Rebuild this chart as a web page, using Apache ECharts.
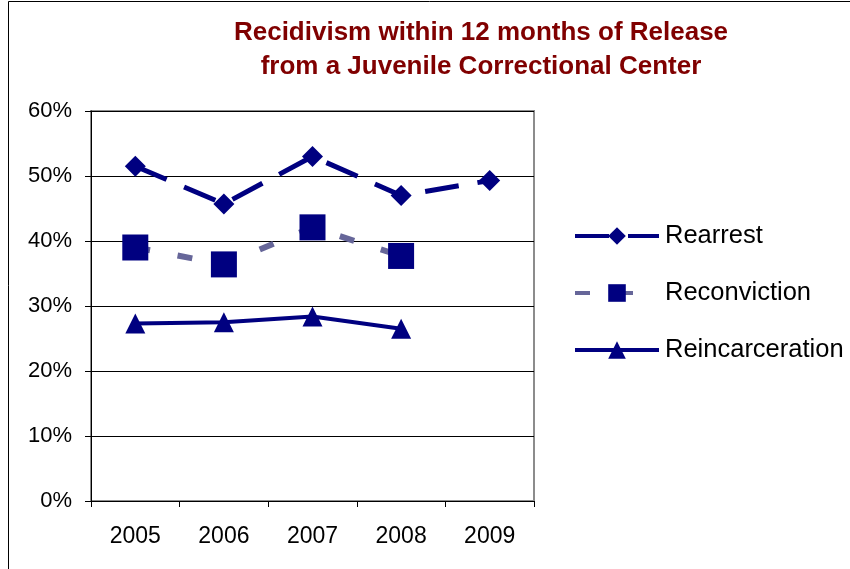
<!DOCTYPE html>
<html>
<head>
<meta charset="utf-8">
<script src="https://cdn.jsdelivr.net/npm/echarts@6/dist/echarts.min.js"></script>
<style>
  html, body { margin: 0; padding: 0; background: #fff; }
  #chart { width: 850px; height: 569px; }
</style>
</head>
<body>
<div id="chart"></div>
<script>
// Recidivism rates (percent) by release year
const years = ['2005', '2006', '2007', '2008', '2009'];
const rearrest = [51.5, 45.7, 53.0, 47.0, 49.3];
const reconviction = [39.0, 36.4, 42.1, 37.7, null];
const reincarceration = [27.3, 27.5, 28.4, 26.5, null];
const yTicks = { min: 0, max: 60, step: 10 };

const NAVY = '#000080';
const SLATE = '#666699';
const FONT = '"Liberation Sans", Arial, sans-serif';

const chart = echarts.init(document.getElementById('chart'));
chart.setOption({
  animation: false,
  backgroundColor: '#fff',
  title: {
    text: 'Recidivism within 12 months of Release\nfrom a Juvenile Correctional Center',
    left: 476,
    textAlign: 'center',
    top: 11,
    textStyle: {
      fontFamily: FONT,
      fontWeight: 'bold',
      fontSize: 26,
      lineHeight: 34,
      color: '#800000'
    }
  },
  graphic: [
    {
      type: 'rect',
      shape: { x: 8.5, y: 1.5, width: 900, height: 600 },
      style: { fill: 'none', stroke: '#000', lineWidth: 1 },
      silent: true
    }
  ],
  legend: {
    orient: 'vertical',
    left: 568,
    top: 218,
    itemWidth: 84,
    itemHeight: 22,
    itemGap: 31,
    lineStyle: { width: 4 },
    textStyle: { fontFamily: FONT, fontSize: 25.5, lineHeight: 26, color: '#000', padding: [0, 0, 0, 1] },
    data: ['Rearrest', 'Reconviction', 'Reincarceration']
  },
  grid: {
    left: 91, right: 316, top: 111, bottom: 68,
    show: true, borderColor: '#8c8c8c', borderWidth: 2,
    containLabel: false
  },
  xAxis: {
    type: 'category',
    data: years,
    boundaryGap: true,
    axisLine: { lineStyle: { color: '#000', width: 1 } },
    axisTick: { show: true, length: 6, lineStyle: { color: '#000' } },
    axisLabel: { fontFamily: FONT, fontSize: 23, color: '#000', margin: 24 },
    splitLine: { show: false }
  },
  yAxis: {
    type: 'value',
    min: yTicks.min, max: yTicks.max, interval: yTicks.step,
    axisLine: { show: true, lineStyle: { color: '#000', width: 1 } },
    axisTick: { show: true, length: 6, lineStyle: { color: '#000' } },
    axisLabel: { fontFamily: FONT, fontSize: 22, color: '#000', margin: 19, formatter: '{value}%' },
    splitLine: { show: true, lineStyle: { color: '#000', width: 1 } }
  },
  series: [
    {
      name: 'Rearrest',
      type: 'line',
      data: rearrest,
      symbol: 'diamond',
      symbolSize: 21,
      itemStyle: { color: NAVY },
      lineStyle: { color: NAVY, width: 5, type: [34, 19] },
      z: 3
    },
    {
      name: 'Reconviction',
      type: 'line',
      data: reconviction,
      symbol: 'rect',
      symbolSize: 26,
      itemStyle: { color: NAVY },
      lineStyle: { color: SLATE, width: 6, type: [15, 28] },
      z: 2
    },
    {
      name: 'Reincarceration',
      type: 'line',
      data: reincarceration,
      symbol: 'triangle',
      symbolSize: 20,
      itemStyle: { color: NAVY },
      lineStyle: { color: NAVY, width: 4 },
      z: 3
    }
  ]
});
</script>
</body>
</html>
